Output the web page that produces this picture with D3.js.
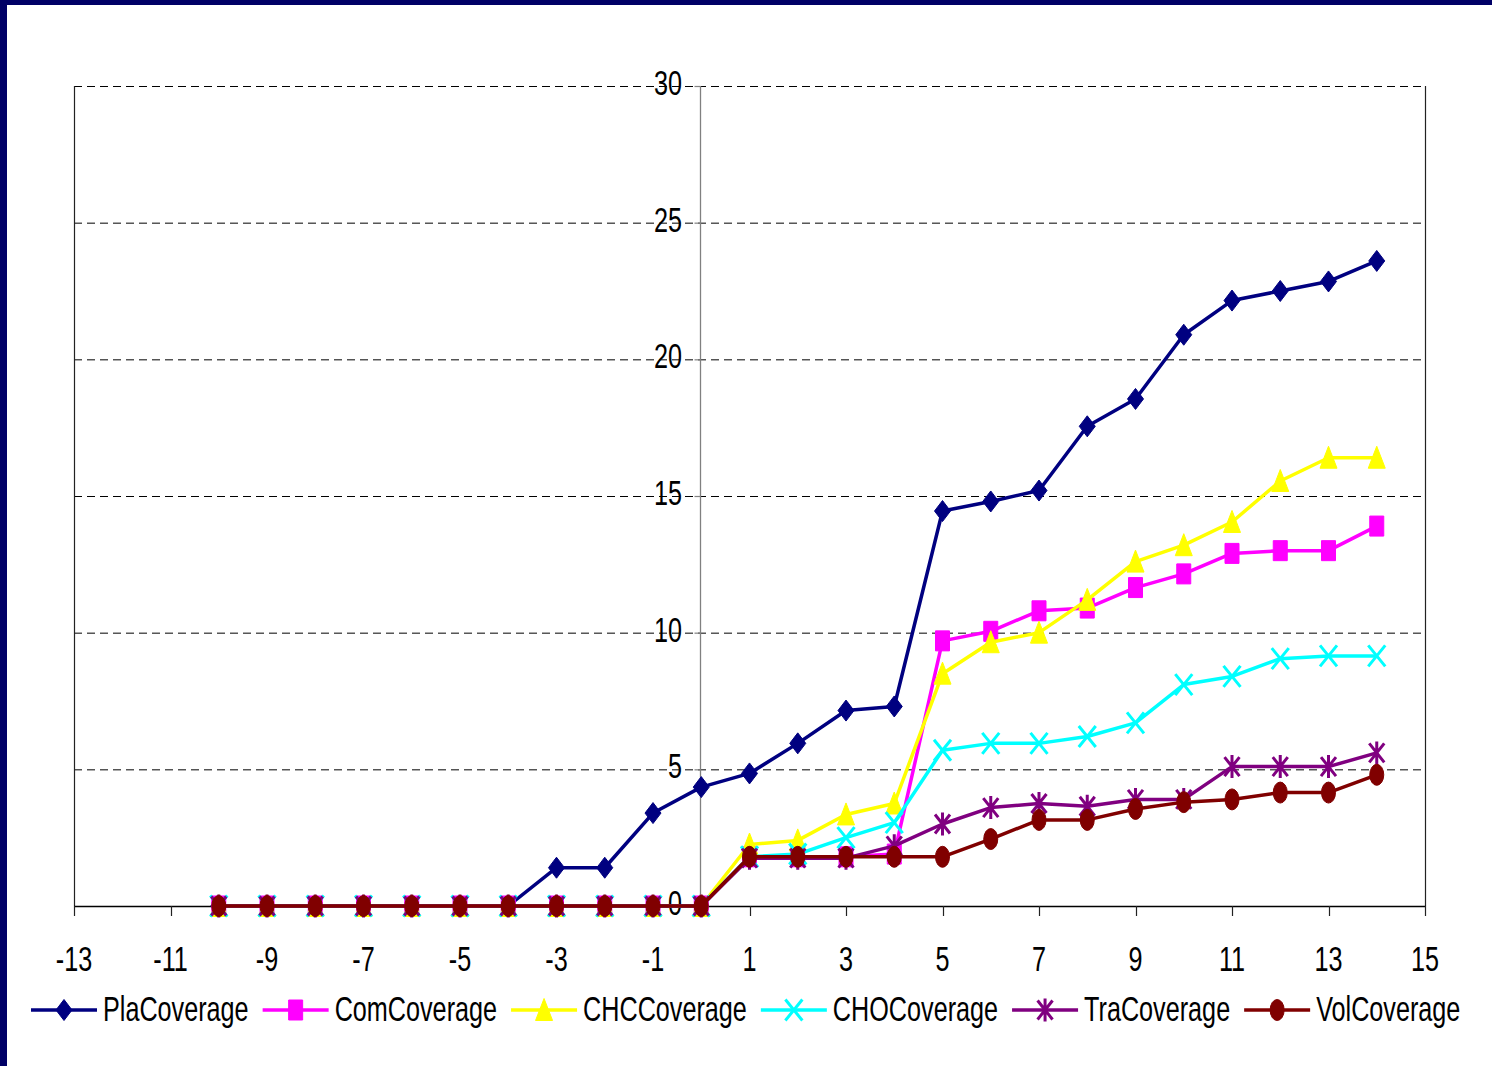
<!DOCTYPE html>
<html>
<head>
<meta charset="utf-8">
<script src="https://cdn.jsdelivr.net/npm/d3@7"></script>
<style>
  html, body { margin: 0; padding: 0; background: #fff; }
  svg { display: block; }
  text { font-family: "Liberation Sans", Arial, sans-serif; fill: #000; }
</style>
</head>
<body>
<svg id="chart" width="1492" height="1066"></svg>
<script>
// Coverage per time step, x = -10 .. 14
const steps = [-10, -9, -8, -7, -6, -5, -4, -3, -2, -1, 0, 1, 2, 3, 4, 5, 6, 7, 8, 9, 10, 11, 12, 13, 14];

const plaCoverage = [0, 0, 0, 0, 0, 0, 0, 1.4, 1.4, 3.4, 4.35, 4.85, 5.95, 7.15, 7.3, 14.45, 14.8, 15.2, 17.55, 18.55, 20.9, 22.15, 22.5, 22.85, 23.6];
const comCoverage = [0, 0, 0, 0, 0, 0, 0, 0, 0, 0, 0, 1.8, 1.8, 1.8, 1.9, 9.7, 10.05, 10.8, 10.9, 11.65, 12.15, 12.9, 13.0, 13.0, 13.9];
const chcCoverage = [0, 0, 0, 0, 0, 0, 0, 0, 0, 0, 0, 2.25, 2.4, 3.35, 3.75, 8.5, 9.65, 10.0, 11.2, 12.6, 13.2, 14.05, 15.55, 16.4, 16.4];
const choCoverage = [0, 0, 0, 0, 0, 0, 0, 0, 0, 0, 0, 1.8, 1.9, 2.5, 3.05, 5.7, 5.95, 5.95, 6.2, 6.7, 8.1, 8.4, 9.05, 9.15, 9.15];
const traCoverage = [0, 0, 0, 0, 0, 0, 0, 0, 0, 0, 0, 1.75, 1.75, 1.75, 2.2, 3.0, 3.6, 3.75, 3.65, 3.9, 3.9, 5.1, 5.1, 5.1, 5.6];
const volCoverage = [0, 0, 0, 0, 0, 0, 0, 0, 0, 0, 0, 1.8, 1.8, 1.8, 1.8, 1.8, 2.45, 3.15, 3.15, 3.55, 3.8, 3.9, 4.15, 4.15, 4.8];

const seriesNames = ["PlaCoverage", "ComCoverage", "CHCCoverage", "CHOCoverage", "TraCoverage", "VolCoverage"];
const seriesValues = [plaCoverage, comCoverage, chcCoverage, choCoverage, traCoverage, volCoverage];
const seriesColors = ["#000080", "#ff00ff", "#ffff00", "#00ffff", "#800080", "#800000"];
const seriesMarkers = ["diamond", "square", "triangle", "cross", "asterisk", "circle"];

const xTicks = [-13, -11, -9, -7, -5, -3, -1, 1, 3, 5, 7, 9, 11, 13, 15];
const yTicks = [0, 5, 10, 15, 20, 25, 30];

const W = 1492, H = 1066;
const plot = { left: 74, right: 1425, top: 86, bottom: 906 };
const squeeze = 0.72;   // narrow glyphs
const fontSize = 35;

const svg = d3.select("#chart");

// frame on the top and left edges
svg.append("rect").attr("x", 0).attr("y", 0).attr("width", W).attr("height", 5).attr("fill", "#000066");
svg.append("rect").attr("x", 0).attr("y", 0).attr("width", 7).attr("height", H).attr("fill", "#000066");

const x = d3.scaleLinear().domain([-13, 15]).range([plot.left, plot.right]);
const y = d3.scaleLinear().domain([0, 30]).range([plot.bottom, plot.top]);

// dashed horizontal gridlines
svg.append("g")
  .selectAll("line")
  .data(yTicks.filter(d => d > 0))
  .join("line")
  .attr("x1", plot.left).attr("x2", plot.right)
  .attr("y1", d => y(d) + 0.5).attr("y2", d => y(d) + 0.5)
  .attr("stroke", "#000").attr("stroke-width", 1)
  .attr("stroke-dasharray", "8,5");

// plot-area side borders
svg.append("line").attr("x1", plot.left + 0.5).attr("x2", plot.left + 0.5)
  .attr("y1", plot.top).attr("y2", plot.bottom).attr("stroke", "#222").attr("stroke-width", 1.2);
svg.append("line").attr("x1", plot.right + 0.5).attr("x2", plot.right + 0.5)
  .attr("y1", plot.top).attr("y2", plot.bottom).attr("stroke", "#222").attr("stroke-width", 1.2);

// vertical value axis through x = 0
const yAxisX = Math.round(x(0)) - 0.5;
svg.append("line").attr("x1", yAxisX).attr("x2", yAxisX)
  .attr("y1", plot.top).attr("y2", plot.bottom).attr("stroke", "#808080").attr("stroke-width", 1.3);
svg.append("g").selectAll("line").data(yTicks).join("line")
  .attr("x1", yAxisX - 6).attr("x2", yAxisX)
  .attr("y1", d => y(d) + 0.5).attr("y2", d => y(d) + 0.5)
  .attr("stroke", "#808080").attr("stroke-width", 1.2);
svg.append("g").selectAll("text").data(yTicks).join("text")
  .attr("transform", d => `translate(682,${y(d) + 9}) scale(${squeeze},1)`)
  .attr("text-anchor", "end")
  .attr("font-size", fontSize)
  .text(d => d);

// horizontal category axis at y = 0
svg.append("line").attr("x1", plot.left).attr("x2", plot.right + 1)
  .attr("y1", plot.bottom + 0.5).attr("y2", plot.bottom + 0.5)
  .attr("stroke", "#000").attr("stroke-width", 1.3);
svg.append("g").selectAll("line").data(xTicks).join("line")
  .attr("x1", d => Math.round(x(d)) + 0.5).attr("x2", d => Math.round(x(d)) + 0.5)
  .attr("y1", plot.bottom).attr("y2", plot.bottom + 10)
  .attr("stroke", "#222").attr("stroke-width", 1.2);
svg.append("g").selectAll("text").data(xTicks).join("text")
  .attr("transform", d => `translate(${x(d)},971) scale(${squeeze},1)`)
  .attr("text-anchor", "middle")
  .attr("font-size", fontSize)
  .text(d => d);

// marker shapes, centred on the origin
function markerPath(kind) {
  switch (kind) {
    case "diamond": return "M0,-10.5 L8,0 L0,10.5 L-8,0 Z";
    case "square": return "M-7,-10 H7 V10 H-7 Z";
    case "triangle": return "M0,-11.5 L8.5,10.5 L-8.5,10.5 Z";
    case "cross": return "M-8.5,-10.5 L8.5,10.5 M8.5,-10.5 L-8.5,10.5";
    case "asterisk": return "M-7.5,-9.5 L7.5,9.5 M7.5,-9.5 L-7.5,9.5 M0,-11.5 V11.5";
    case "circle": return "M-7,0 A7,10.5 0 1,0 7,0 A7,10.5 0 1,0 -7,0 Z";
  }
}
function drawMarker(g, kind, color, cx, cy) {
  const open = kind === "cross" || kind === "asterisk";
  g.append("path")
    .attr("transform", `translate(${cx},${cy})`)
    .attr("d", markerPath(kind))
    .attr("fill", open ? "none" : color)
    .attr("stroke", color)
    .attr("stroke-width", open ? 3 : 1)
    .attr("stroke-linejoin", "round");
}

const line = d3.line()
  .x(d => x(d[0]))
  .y(d => y(d[1]));

const seriesLayer = svg.append("g");
seriesValues.forEach((vals, i) => {
  const pts = steps.map((s, j) => [s, vals[j]]);
  const g = seriesLayer.append("g");
  g.append("path")
    .attr("d", line(pts))
    .attr("fill", "none")
    .attr("stroke", seriesColors[i])
    .attr("stroke-width", 3.5)
    .attr("stroke-linejoin", "round");
  pts.forEach(p => drawMarker(g, seriesMarkers[i], seriesColors[i], x(p[0]), y(p[1])));
});

// legend along the bottom
const legend = svg.append("g");
let lx = 31;
const ly = 1010;
seriesNames.forEach((name, i) => {
  const g = legend.append("g");
  g.append("line").attr("x1", lx).attr("x2", lx + 66).attr("y1", ly).attr("y2", ly)
    .attr("stroke", seriesColors[i]).attr("stroke-width", 3.5);
  drawMarker(g, seriesMarkers[i], seriesColors[i], lx + 33, ly);
  const t = g.append("text")
    .attr("transform", `translate(${lx + 72},1021) scale(${squeeze},1)`)
    .attr("font-size", fontSize)
    .text(name);
  const w = t.node().getComputedTextLength() * squeeze;
  lx = lx + 72 + w + 14;
});
</script>
</body>
</html>
